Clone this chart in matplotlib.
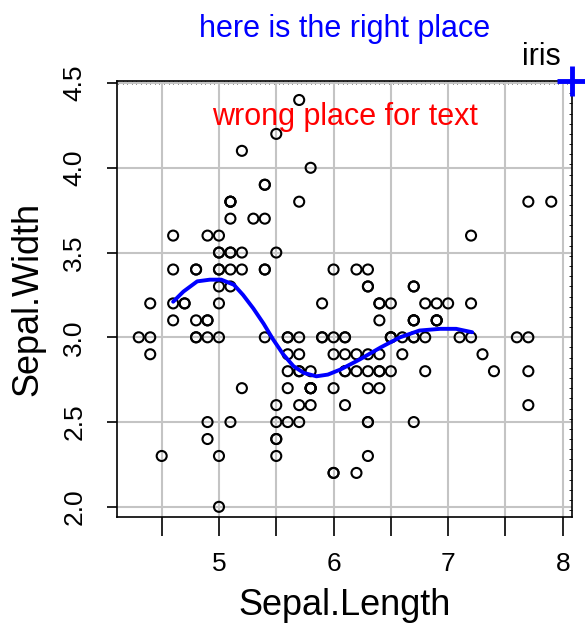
import numpy as np
import matplotlib
matplotlib.use('Agg')
import matplotlib.pyplot as plt
from matplotlib.ticker import MultipleLocator

plt.rcParams['font.family'] = ['Liberation Sans', 'DejaVu Sans']

# iris : Sepal.Length / Sepal.Width
sepal_length = [5.1, 4.9, 4.7, 4.6, 5.0, 5.4, 4.6, 5.0, 4.4, 4.9, 5.4, 4.8, 4.8, 4.3, 5.8,
                5.7, 5.4, 5.1, 5.7, 5.1, 5.4, 5.1, 4.6, 5.1, 4.8, 5.0, 5.0, 5.2, 5.2, 4.7,
                4.8, 5.4, 5.2, 5.5, 4.9, 5.0, 5.5, 4.9, 4.4, 5.1, 5.0, 4.5, 4.4, 5.0, 5.1,
                4.8, 5.1, 4.6, 5.3, 5.0, 7.0, 6.4, 6.9, 5.5, 6.5, 5.7, 6.3, 4.9, 6.6, 5.2,
                5.0, 5.9, 6.0, 6.1, 5.6, 6.7, 5.6, 5.8, 6.2, 5.6, 5.9, 6.1, 6.3, 6.1, 6.4,
                6.6, 6.8, 6.7, 6.0, 5.7, 5.5, 5.5, 5.8, 6.0, 5.4, 6.0, 6.7, 6.3, 5.6, 5.5,
                5.5, 6.1, 5.8, 5.0, 5.6, 5.7, 5.7, 6.2, 5.1, 5.7, 6.3, 5.8, 7.1, 6.3, 6.5,
                7.6, 4.9, 7.3, 6.7, 7.2, 6.5, 6.4, 6.8, 5.7, 5.8, 6.4, 6.5, 7.7, 7.7, 6.0,
                6.9, 5.6, 7.7, 6.3, 6.7, 7.2, 6.2, 6.1, 6.4, 7.2, 7.4, 7.9, 6.4, 6.3, 6.1,
                7.7, 6.3, 6.4, 6.0, 6.9, 6.7, 6.9, 5.8, 6.8, 6.7, 6.7, 6.3, 6.5, 6.2, 5.9]
sepal_width = [3.5, 3.0, 3.2, 3.1, 3.6, 3.9, 3.4, 3.4, 2.9, 3.1, 3.7, 3.4, 3.0, 3.0, 4.0,
               4.4, 3.9, 3.5, 3.8, 3.8, 3.4, 3.7, 3.6, 3.3, 3.4, 3.0, 3.4, 3.5, 3.4, 3.2,
               3.1, 3.4, 4.1, 4.2, 3.1, 3.2, 3.5, 3.6, 3.0, 3.4, 3.5, 2.3, 3.2, 3.5, 3.8,
               3.0, 3.8, 3.2, 3.7, 3.3, 3.2, 3.2, 3.1, 2.3, 2.8, 2.8, 3.3, 2.4, 2.9, 2.7,
               2.0, 3.0, 2.2, 2.9, 2.9, 3.1, 3.0, 2.7, 2.2, 2.5, 3.2, 2.8, 2.5, 2.8, 2.9,
               3.0, 2.8, 3.0, 2.9, 2.6, 2.4, 2.4, 2.7, 2.7, 3.0, 3.4, 3.1, 2.3, 3.0, 2.5,
               2.6, 3.0, 2.6, 2.3, 2.7, 3.0, 2.9, 2.9, 2.5, 2.8, 3.3, 2.7, 3.0, 2.9, 3.0,
               3.0, 2.5, 2.9, 2.5, 3.6, 3.2, 2.7, 3.0, 2.5, 2.8, 3.2, 3.0, 3.8, 2.6, 2.2,
               3.2, 2.8, 2.8, 2.7, 3.3, 3.2, 2.8, 3.0, 2.8, 3.0, 2.8, 3.8, 2.8, 2.8, 2.6,
               3.0, 3.4, 3.1, 3.0, 3.1, 3.1, 3.1, 2.7, 3.2, 3.3, 3.0, 2.5, 3.0, 3.4, 3.0]

# courbe lissée
smooth_x = [4.60, 4.69, 4.81, 4.92, 5.02, 5.13, 5.21, 5.30, 5.39, 5.47, 5.56, 5.65,
            5.74, 5.85, 5.95, 6.06, 6.23, 6.41, 6.58, 6.75, 6.93, 7.07, 7.21]
smooth_y = [3.21, 3.27, 3.33, 3.34, 3.34, 3.31, 3.25, 3.17, 3.08, 2.99, 2.90, 2.83,
            2.79, 2.77, 2.78, 2.81, 2.87, 2.94, 3.00, 3.04, 3.05, 3.05, 3.03]

x_ticks = [4.5, 5.0, 5.5, 6.0, 6.5, 7.0, 7.5, 8.0]
x_labels = ['', '5', '', '6', '', '7', '', '8']
y_ticks = [2.0, 2.5, 3.0, 3.5, 4.0, 4.5]
y_labels = ['2.0', '2.5', '3.0', '3.5', '4.0', '4.5']
xlim = (4.11, 8.081)
ylim = (1.94, 4.512)

fig = plt.figure(figsize=(5.85, 6.27), dpi=100)
ax = fig.add_axes([117/585, 1 - 517/627, (572 - 117)/585, (517 - 81)/627])

ax.scatter(sepal_length, sepal_width, s=52, facecolors='none', edgecolors='black',
           linewidths=1.5, zorder=3)
ax.plot(smooth_x, smooth_y, color='blue', linewidth=2.8, zorder=4,
        solid_capstyle='round')

ax.set_xlim(xlim)
ax.set_ylim(ylim)
ax.set_xticks(x_ticks)
ax.set_xticklabels(x_labels, fontsize=19)
ax.set_yticks(y_ticks)
ax.set_yticklabels(y_labels, fontsize=19, rotation=90, va='center')
ax.grid(True, color='#c4c4c4', linewidth=1.5, zorder=0)
ax.set_axisbelow(True)

ax.tick_params(axis='x', which='major', direction='out', length=13.5, width=1.2, pad=12)
ax.tick_params(axis='y', which='major', direction='out', length=7, width=1.2, pad=15)
ax.xaxis.set_minor_locator(MultipleLocator(0.04))
ax.yaxis.set_minor_locator(MultipleLocator(0.06))
ax.tick_params(which='minor', direction='in', length=2, width=0.6,
               bottom=False, left=False, top=True, right=True)
for s in ax.spines.values():
    s.set_linewidth(1.2)

ax.set_xlabel('Sepal.Length', fontsize=26, labelpad=8)
ax.set_ylabel('Sepal.Width', fontsize=26, labelpad=12)

# textes
ax.text(0.5, 0.917, 'wrong place for text', color='red', fontsize=22,
        ha='center', va='center', transform=ax.transAxes)
fig.text(345/585, 1 - 29/627, 'here is the right place', color='blue', fontsize=22,
         ha='center', va='center')
fig.text(561/585, 1 - 57/627, 'iris', color='black', fontsize=22,
         ha='right', va='center')
ax.plot([xlim[1]], [ylim[1]], marker='+', color='blue', markersize=21,
        markeredgewidth=3.5, clip_on=False, zorder=5)

fig.savefig('out.png', dpi=100)
